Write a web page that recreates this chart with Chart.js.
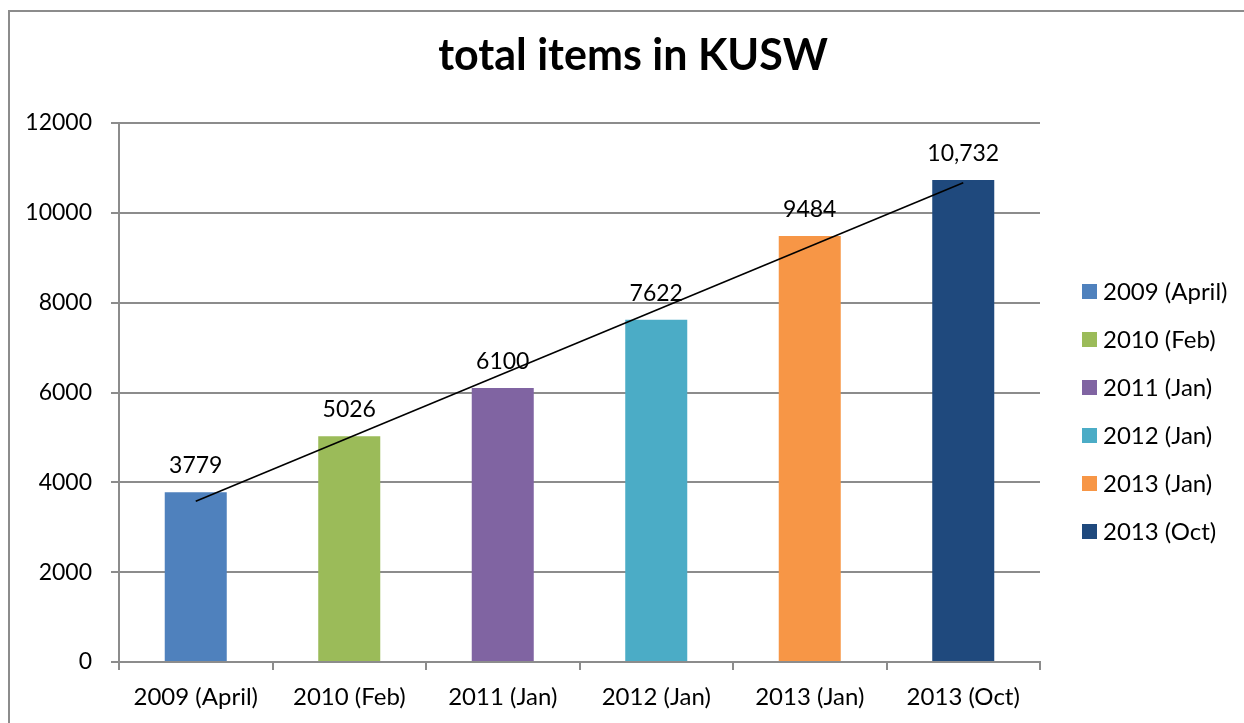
<!DOCTYPE html>
<html>
<head>
<meta charset="utf-8">
<script src="https://cdn.jsdelivr.net/npm/chart.js@4/dist/chart.umd.min.js"></script>
<style>
  html, body { margin: 0; padding: 0; background: #fff; }
  #wrap { position: relative; width: 1244px; height: 723px; overflow: hidden; }
  #frame { position: absolute; left: 8px; top: 10px; width: 1300px; height: 800px; border: 2px solid #8c8c8c; box-sizing: border-box; }
  canvas { position: absolute; left: 0; top: 0; }
</style>
</head>
<body>
<div id="wrap">
  <div id="frame"></div>
  <canvas id="c" width="1244" height="723"></canvas>
</div>
<script>
const categories = ["2009 (April)", "2010 (Feb)", "2011 (Jan)", "2012 (Jan)", "2013 (Jan)", "2013 (Oct)"];
const totalItems = [3779, 5026, 6100, 7622, 9484, 10732];
const valueLabels = ["3779", "5026", "6100", "7622", "9484", "10,732"];
const trendLine = [3577, null, null, null, null, 10671];
const barColors = ["#4F81BD", "#9BBB59", "#8064A2", "#4BACC6", "#F79646", "#1F497D"];
const yTicks = [0, 2000, 4000, 6000, 8000, 10000, 12000];
const chartTitle = "total items in KUSW";

const FONT = "Lato, 'Open Sans', sans-serif";
const gridColor = "#8c8c8c";

const titlePlugin = {
  id: 'pageTitle',
  afterDraw(chart) {
    const ctx = chart.ctx;
    ctx.save();
    ctx.font = "bold 43px " + FONT;
    ctx.fillStyle = "#000";
    ctx.textAlign = "center";
    ctx.textBaseline = "alphabetic";
    ctx.fillText(chartTitle, 633, 70);
    ctx.restore();
  }
};

const valueLabelPlugin = {
  id: 'valueLabels',
  afterDatasetsDraw(chart) {
    const meta = chart.getDatasetMeta(1);
    const ctx = chart.ctx;
    ctx.save();
    ctx.font = "23px " + FONT;
    ctx.fillStyle = "#000";
    ctx.textAlign = "center";
    ctx.textBaseline = "alphabetic";
    meta.data.forEach((bar, i) => {
      ctx.fillText(valueLabels[i], bar.x, bar.y - 19);
    });
    ctx.restore();
  }
};

const legendPlugin = {
  id: 'sideLegend',
  afterDraw(chart) {
    const ctx = chart.ctx;
    ctx.save();
    ctx.font = "24px " + FONT;
    ctx.textAlign = "left";
    ctx.textBaseline = "alphabetic";
    categories.forEach((c, i) => {
      const y = 291.5 + i * 48;
      ctx.fillStyle = barColors[i];
      ctx.fillRect(1082, y - 7.5, 15, 15);
      ctx.fillStyle = "#000";
      ctx.fillText(c, 1103, y + 8);
    });
    ctx.restore();
  }
};

new Chart(document.getElementById('c'), {
  type: 'bar',
  data: {
    labels: categories,
    datasets: [
      {
        type: 'line',
        label: 'Trend',
        data: trendLine,
        spanGaps: true,
        borderColor: '#000',
        borderWidth: 1.6,
        pointRadius: 0,
        fill: false,
        order: 0
      },
      {
        type: 'bar',
        label: 'total items',
        data: totalItems,
        backgroundColor: barColors,
        borderWidth: 0,
        categoryPercentage: 1,
        barPercentage: 0.404,
        order: 1
      }
    ]
  },
  options: {
    responsive: false,
    animation: false,
    devicePixelRatio: 1,
    layout: { padding: { left: 0, right: 204, top: 123, bottom: 0 } },
    plugins: {
      legend: { display: false },
      tooltip: { enabled: false },
      title: { display: false }
    },
    scales: {
      x: {
        grid: { display: true, drawOnChartArea: false, drawTicks: true, tickLength: 8, color: gridColor, lineWidth: 2, offset: true },
        border: { display: true, color: gridColor, width: 2 },
        ticks: { color: '#000', font: { family: FONT, size: 24 }, padding: 13, maxRotation: 0, autoSkip: false },
        afterFit(s) { s.height = 61; }
      },
      y: {
        min: 0,
        max: 12000,
        afterBuildTicks(s) { s.ticks = yTicks.map(v => ({ value: v })); },
        grid: { color: gridColor, lineWidth: 2, tickLength: 8, drawTicks: true },
        border: { display: true, color: gridColor, width: 2 },
        ticks: { color: '#000', font: { family: FONT, size: 23 }, padding: 19, callback: v => String(v) },
        afterFit(s) { s.width = 119; }
      }
    }
  },
  plugins: [valueLabelPlugin, legendPlugin, titlePlugin]
});
</script>
</body>
</html>
